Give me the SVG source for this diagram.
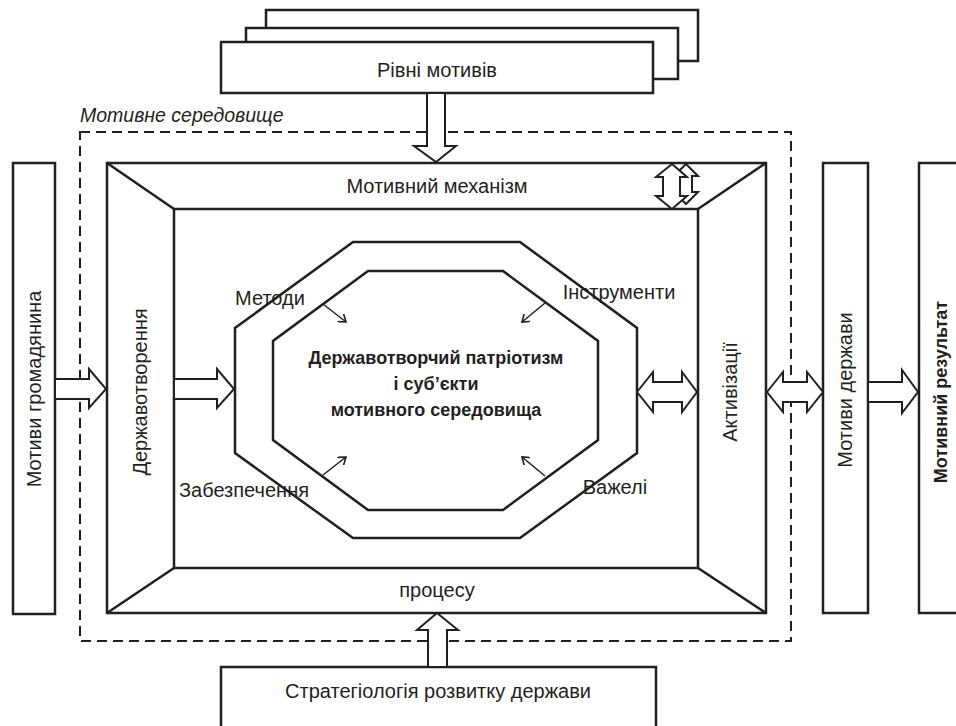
<svg xmlns="http://www.w3.org/2000/svg" width="956" height="726" viewBox="0 0 956 726">
<style>
.ln{fill:none;stroke:#231f20;stroke-width:2.5;stroke-linejoin:miter}
.bx{fill:#fff;stroke:#231f20;stroke-width:2.5}
.ar{fill:#fff;stroke:#231f20;stroke-width:2;stroke-linejoin:miter}
.th{stroke:#231f20;stroke-width:1.5;fill:none}
.t{font-family:"Liberation Sans",Arial,sans-serif;font-size:20px;fill:#231f20;text-anchor:middle}
.b{font-weight:bold;font-size:18px}
.dash{fill:none;stroke:#231f20;stroke-width:2;stroke-dasharray:10 6}
</style>
<defs>
<marker id="ah" markerWidth="10" markerHeight="10" refX="7" refY="5" orient="auto" markerUnits="userSpaceOnUse">
<path d="M0,0 L7,5 L0,10" fill="none" stroke="#231f20" stroke-width="1.6"/>
</marker>
</defs>

<g id="levels">
<rect class="bx" x="266" y="10" width="432" height="51"/>
<rect class="bx" x="246" y="28" width="432" height="51"/>
<rect class="bx" x="221" y="42" width="432" height="51"/>
<text class="t" x="437" y="77">Рівні мотивів</text>
</g>

<g id="environment">
<rect class="dash" x="80" y="132" width="711" height="509"/>
<text class="t" x="80" y="122" style="text-anchor:start;font-style:italic;font-size:19.5px">Мотивне середовище</text>
</g>

<g id="mechanism">
<rect class="ln" x="107" y="163" width="659" height="450"/>
<rect class="ln" x="174" y="209" width="524" height="359"/>
<path class="ln" d="M107,163 L174,209 M766,163 L698,209 M107,613 L174,568 M766,613 L698,568"/>
<text class="t" x="437" y="193">Мотивний механізм</text>
<text class="t" x="437" y="597">процесу</text>
<text class="t" transform="translate(147,392) rotate(-90)">Державотворення</text>
<text class="t" transform="translate(737,392) rotate(-90)">Активізації</text>
</g>

<g id="octagon">
<polygon class="ln" points="353,242 520,242 637,328 637,453 520,538 353,538 235,453 235,328"/>
<polygon class="ln" points="368,271 503,271 598,341 598,440 503,510 368,510 273,440 273,341"/>
<text class="t b" x="436" y="364">Державотворчий патріотизм</text>
<text class="t b" x="436" y="390">і суб’єкти</text>
<text class="t b" x="436" y="416">мотивного середовища</text>
<text class="t" x="270" y="305">Методи</text>
<text class="t" x="619" y="299">Інструменти</text>
<text class="t" x="244" y="497">Забезпечення</text>
<text class="t" x="615" y="494">Важелі</text>
</g>

<g id="citizen">
<rect class="bx" x="13" y="163" width="42" height="451"/>
<text class="t" transform="translate(41,389) rotate(-90)">Мотиви громадянина</text>
</g>

<g id="state">
<rect class="bx" x="823" y="163" width="45" height="450"/>
<text class="t" transform="translate(852,390) rotate(-90)">Мотиви держави</text>
</g>

<g id="result">
<rect class="bx" x="919" y="163" width="60" height="450"/>
<text class="t b" transform="translate(947,392) rotate(-90)">Мотивний результат</text>
</g>

<g id="strategy">
<rect class="bx" x="221" y="667" width="435" height="80"/>
<text class="t" x="438" y="698">Стратегіологія розвитку держави</text>
</g>

<g id="connectors">
<path class="ar" d="M427,93 L445,93 L445,146 L456,146 L436,162 L414,146 L427,146 Z"/>
<path class="ar" d="M428,667 L447,667 L447,630 L458,630 L437,613 L417,630 L428,630 Z"/>
<path class="ar" d="M55,379 L89,379 L89,369 L106,389 L89,408 L89,399 L55,399 Z"/>
<path class="ar" d="M174,379 L217,379 L217,369 L234,389 L217,408 L217,399 L174,399 Z"/>
<path class="ar" d="M637,392 L653,372 L653,382 L682,382 L682,372 L697,392 L682,412 L682,402 L653,402 L653,412 Z"/>
<path class="ar" d="M767,392 L783,372 L783,382 L807,382 L807,372 L823,392 L807,412 L807,402 L783,402 L783,412 Z"/>
<path class="ar" d="M868,382 L902,382 L902,370 L918,392 L902,413 L902,402 L868,402 Z"/>
<path class="ar" d="M686,164 L698,176 L692,176 L692,192 L698,192 L686,204 L674,192 L680,192 L680,176 L674,176 Z"/>
<path class="ar" d="M672,164 L687,177 L680,177 L680,196 L687,196 L672,209 L656,196 L663,196 L663,177 L656,177 Z"/>
<line class="th" x1="323" y1="304" x2="346" y2="322" marker-end="url(#ah)"/>
<line class="th" x1="545" y1="303" x2="522" y2="322" marker-end="url(#ah)"/>
<line class="th" x1="323" y1="475" x2="346" y2="457" marker-end="url(#ah)"/>
<line class="th" x1="545" y1="476" x2="522" y2="457" marker-end="url(#ah)"/>
</g>
</svg>
